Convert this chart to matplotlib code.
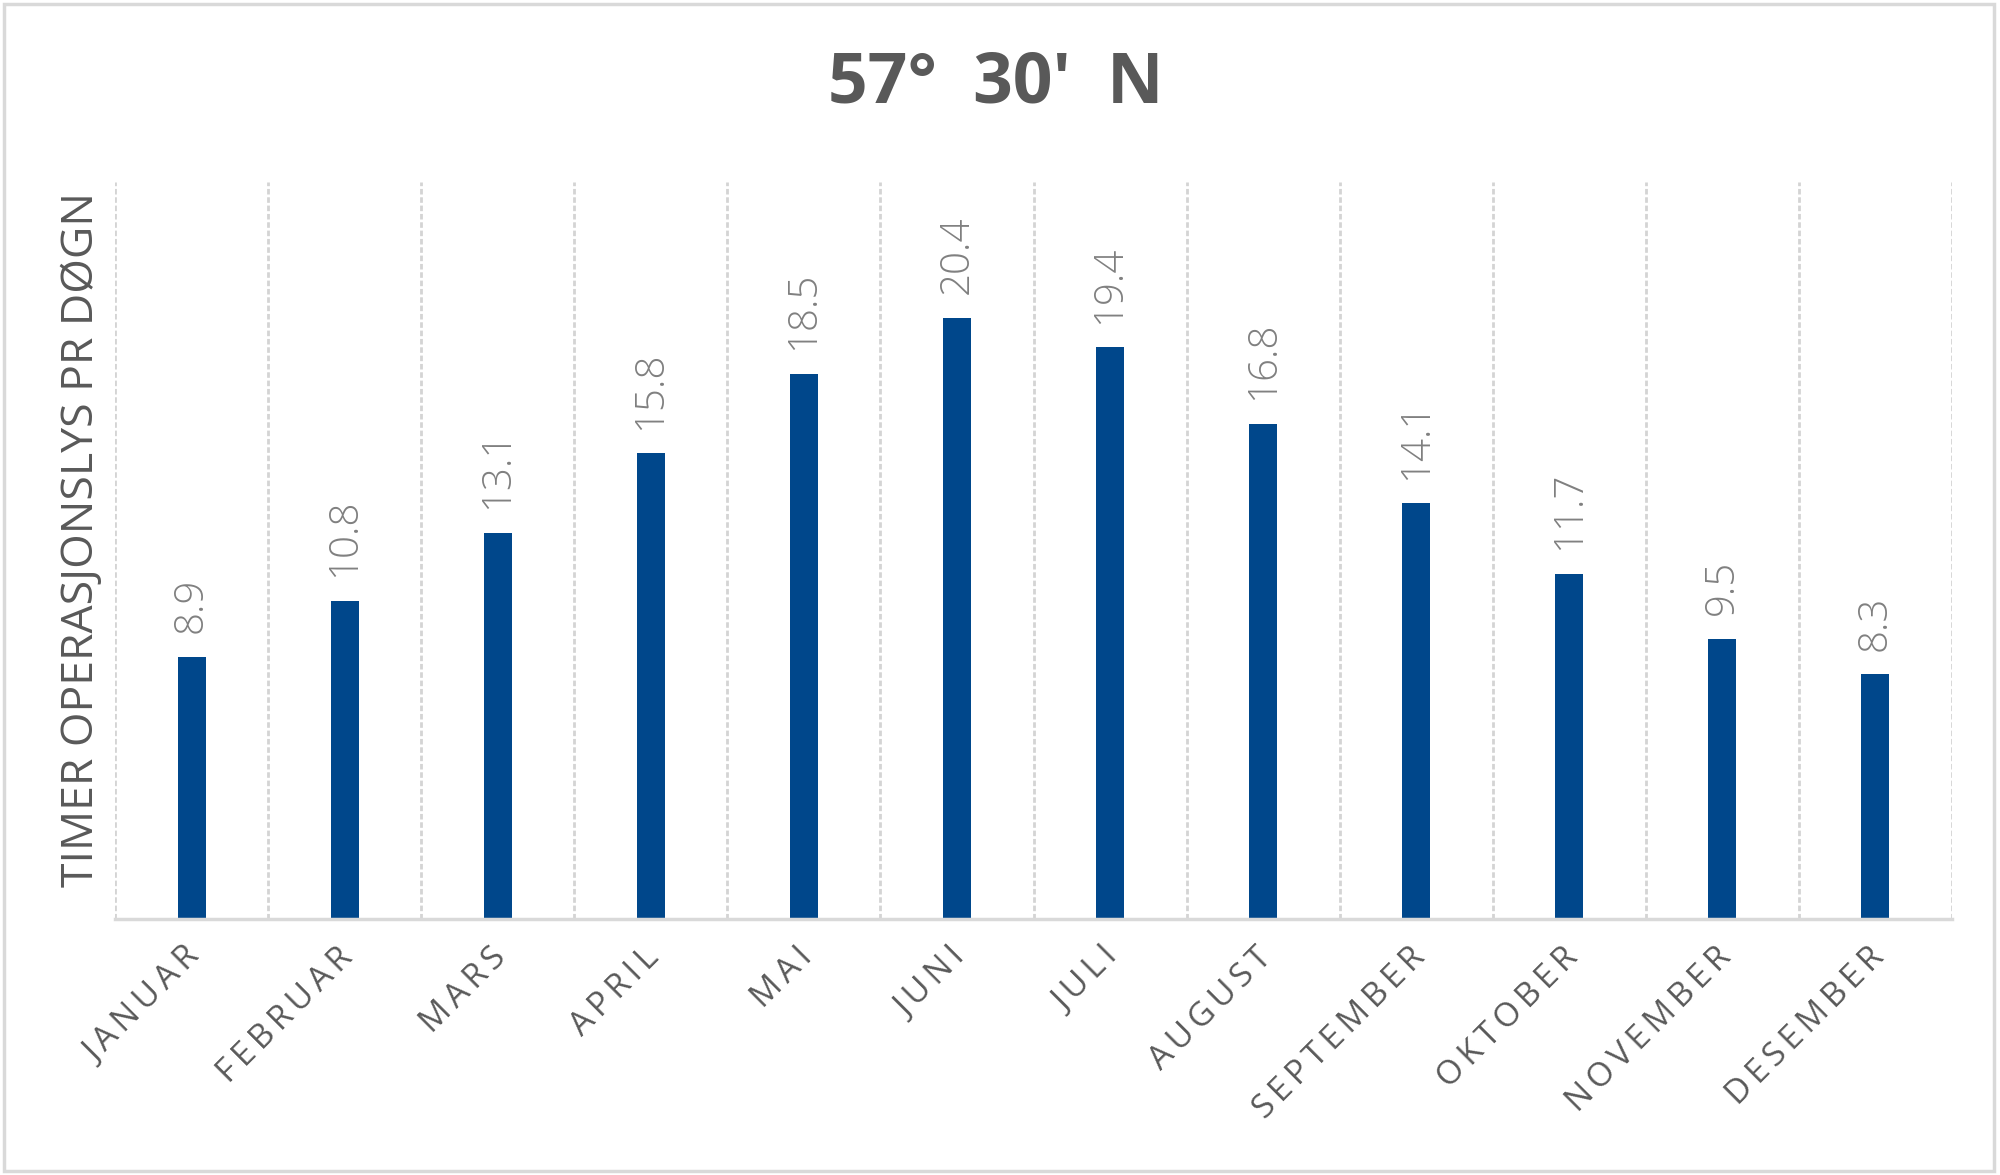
import matplotlib
matplotlib.use('Agg')
import matplotlib.pyplot as plt
from matplotlib.patches import Rectangle
from matplotlib.transforms import ScaledTranslation

months = ['JANUAR', 'FEBRUAR', 'MARS', 'APRIL', 'MAI', 'JUNI', 'JULI',
          'AUGUST', 'SEPTEMBER', 'OKTOBER', 'NOVEMBER', 'DESEMBER']
hours = [8.9, 10.8, 13.1, 15.8, 18.5, 20.4, 19.4, 16.8, 14.1, 11.7, 9.5, 8.3]
title = "57°  30'  N"
ylabel = 'TIMER OPERASJONSLYS PR DØGN'

plt.rcParams['font.family'] = ['Open Sans', 'DejaVu Sans']

fig = plt.figure(figsize=(20, 11.75), dpi=100)
ax = fig.add_axes([0.0575, 0.218, 0.9185, 0.627])

x = list(range(len(months)))
ax.bar(x, hours, width=0.183, color='#00478b', zorder=3)

for xi, v in zip(x, hours):
    ax.annotate(f'{v:.1f}', (xi, v), xytext=(0, 17), textcoords='offset points',
                rotation=90, ha='center', va='bottom', fontsize=29,
                color='#808080', fontweight='light')

ax.set_xlim(-0.5, len(months) - 0.5)
ax.set_ylim(0, 25)

# vertical category separators
for b in range(len(months) + 1):
    ax.axvline(b - 0.5, color='#d4d4d4', lw=2, ls=(0, (2, 1)), zorder=1)

for s in ['top', 'right', 'left']:
    ax.spines[s].set_visible(False)
ax.spines['bottom'].set_color('#d9d9d9')
ax.spines['bottom'].set_linewidth(2.5)
ax.spines['bottom'].set_zorder(4)

ax.set_yticks([])
ax.set_xticks(x)
ax.set_xticklabels(['\u2009'.join(m) for m in months], rotation=45, ha='right',
                   rotation_mode='anchor', fontsize=24, color='#595959')
ax.tick_params(axis='x', length=0, pad=16)
shift = ScaledTranslation(-8 / 100, 0, fig.dpi_scale_trans)
for lab in ax.get_xticklabels():
    lab.set_transform(lab.get_transform() + shift)

fig.text(0.041, 0.541, ylabel, rotation=90, ha='center', va='center',
         fontsize=32, color='#595959')
fig.text(0.498, 1 - 84.5 / 1175, title, ha='center', va='center',
         fontsize=50, fontweight='bold', color='#595959')

fig.patches.append(Rectangle((0.002, 0.003), 0.995, 0.994, transform=fig.transFigure,
                             fill=False, edgecolor='#d9d9d9', lw=2.5))

fig.savefig('out.png', dpi=100)
